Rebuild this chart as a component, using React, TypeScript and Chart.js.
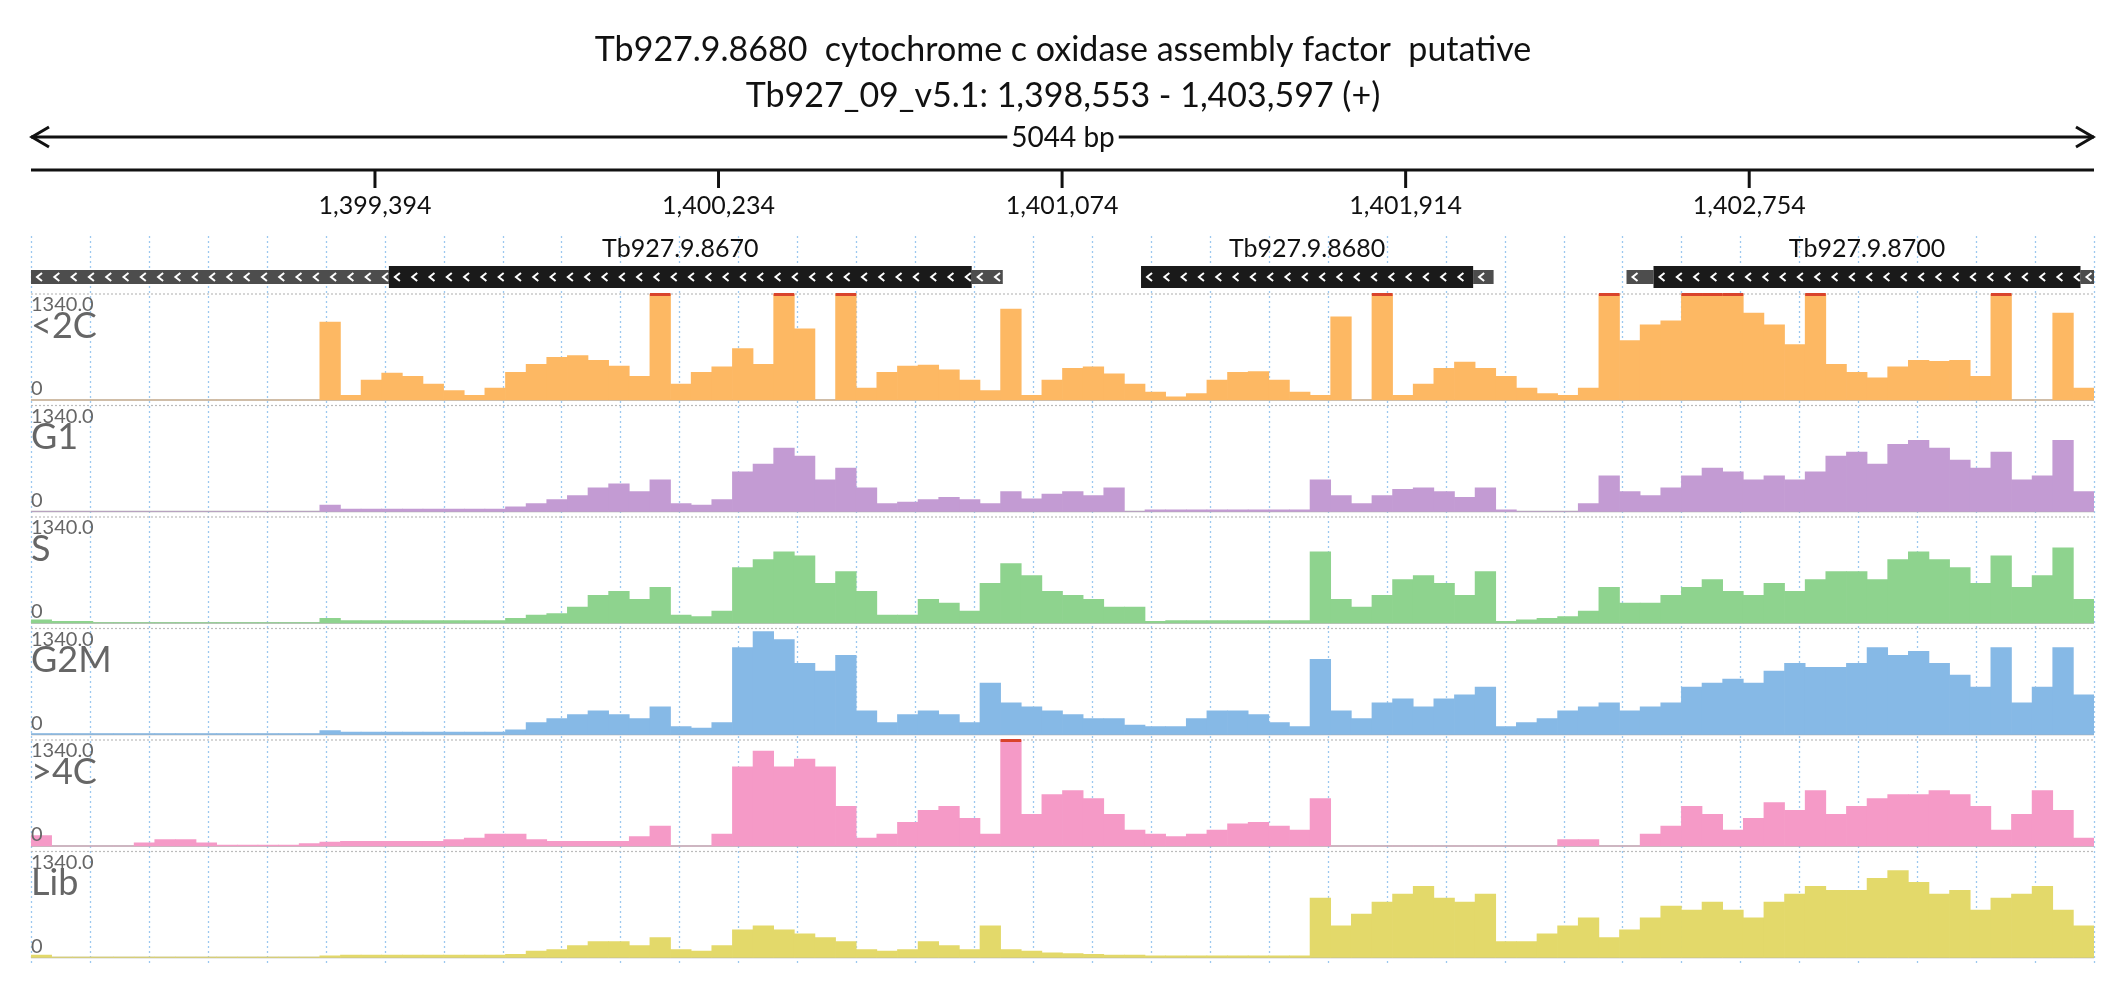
import React, { useEffect, useRef } from "react";
import { Chart, registerables } from "chart.js";
Chart.register(...registerables);

const START = 1398553;
const END = 1403597;
const NBINS = 100;
const TITLE1 = "Tb927.9.8680  cytochrome c oxidase assembly factor  putative";
const TITLE2 = "Tb927_09_v5.1: 1,398,553 - 1,403,597 (+)";
const SPAN_LABEL = "5044 bp";
const RULER_TICKS = [1399394, 1400234, 1401074, 1401914, 1402754];
const TRACK_NAMES = ["<2C", "G1", "S", "G2M", ">4C", "Lib"];
const TRACK_COLORS = ["#fdb863", "#c39bd3", "#8ed38e", "#86b9e6", "#f59ac7", "#e3d96a"];
const YMAX = 1340;
const GENES = [
  { name: "Tb927.9.8670", utr5: [1398553, 1399428], cds: [1399428, 1400853], utr3: [1400853, 1400929] },
  { name: "Tb927.9.8680", utr5: [1401267, 1401267], cds: [1401267, 1402079], utr3: [1402079, 1402129] },
  { name: "Tb927.9.8700", utr5: [1402454, 1402520], cds: [1402520, 1403564], utr3: [1403564, 1403597] },
];

const T_2C = [0,0,0,0,0,0,0,0,0,0,0,0,0,0,985,60,250,340,300,200,120,60,150,350,450,540,560,500,430,300,1340,200,350,420,650,450,1340,900,0,1340,150,350,430,440,380,250,120,1150,60,250,400,420,330,200,100,40,80,250,350,360,250,100,60,1050,0,1340,60,200,400,480,400,300,150,80,60,150,1340,750,950,1000,1340,1340,1340,1100,950,700,1340,450,350,280,420,500,490,500,300,1340,0,0,1100,150];
const T_G1 = [0,0,0,0,0,0,0,0,0,0,0,0,0,0,80,30,30,30,30,30,30,30,30,60,100,150,200,300,350,250,400,100,80,150,500,600,800,700,400,550,300,100,120,150,180,150,100,250,160,220,250,200,300,0,20,20,20,20,20,20,20,20,400,200,100,200,280,300,250,180,300,20,0,0,0,100,450,250,200,300,450,550,500,400,450,400,500,700,750,600,850,900,800,650,550,750,400,450,900,250];
const T_S = [40,20,20,5,5,5,5,5,5,5,5,5,5,5,60,30,30,30,30,30,30,30,30,60,100,120,200,350,400,300,450,100,80,150,700,800,900,850,500,650,400,100,100,300,250,150,500,750,600,400,350,300,200,200,20,30,30,30,30,30,30,30,900,300,200,350,550,600,500,350,650,20,40,60,80,150,450,250,250,350,450,550,400,350,500,400,550,650,650,550,800,900,800,700,500,850,450,600,950,300];
const T_G2M = [10,10,10,10,10,10,10,10,10,10,10,10,10,10,50,30,30,30,30,30,30,30,30,60,150,200,250,300,250,200,350,100,80,150,1100,1300,1200,900,800,1000,300,150,250,300,250,150,650,400,350,300,250,200,200,120,100,100,200,300,300,250,150,100,950,300,200,400,450,350,450,500,600,100,150,200,300,350,400,300,350,400,600,650,700,650,800,900,850,850,900,1100,1000,1050,900,750,600,1100,400,600,1100,500];
const T_4C = [130,0,0,0,0,40,80,80,40,10,10,10,10,30,50,60,60,60,60,60,80,100,150,150,80,60,60,60,60,120,250,0,0,150,1000,1200,1000,1100,1000,500,100,150,300,450,500,350,150,1340,400,650,700,600,400,200,150,120,150,200,280,300,250,200,600,0,0,0,0,0,0,0,0,0,0,0,80,80,0,0,150,250,500,400,200,350,550,450,700,400,500,600,650,650,700,650,500,200,400,700,450,100];
const T_LIB = [30,5,5,5,5,5,5,5,5,5,5,5,5,5,20,30,30,30,30,30,30,30,30,40,80,100,150,200,200,150,250,100,80,150,350,400,350,300,250,200,100,80,100,200,150,100,400,100,80,60,50,40,30,30,20,20,20,20,20,20,20,20,750,400,550,700,800,900,750,700,800,200,200,300,400,500,250,350,500,650,600,700,600,500,700,800,900,850,850,1000,1100,950,800,850,600,750,800,900,600,400];
const TRACKS = [T_2C, T_G1, T_S, T_G2M, T_4C, T_LIB];

const FONT = "Lato, 'Noto Sans', sans-serif";

export default function App() {
  const ref = useRef<HTMLCanvasElement>(null);
  useEffect(() => {
    const canvas = ref.current!;
    const binW = (END - START) / NBINS;
    const datasets = TRACKS.map((vals, t) => ({
      label: TRACK_NAMES[t],
      data: vals.map((v, i) => ({ x: START + binW * (i + 0.5), y: v })),
      backgroundColor: TRACK_COLORS[t],
      borderWidth: 0,
      barPercentage: 1,
      categoryPercentage: 1,
      grouped: false,
      yAxisID: "y" + t,
    }));
    const scales: any = {
      x: {
        type: "linear", min: START, max: END, offset: false, display: true,
        ticks: { display: false }, grid: { display: false }, border: { display: false },
        afterFit: (s: any) => { s.height = 0; },
      },
    };
    TRACK_NAMES.forEach((_, t) => {
      scales["y" + t] = {
        type: "linear", min: -70, max: YMAX, stack: "tracks", stackWeight: 1, weight: 6 - t,
        position: "left", offset: false,
        ticks: { display: false }, grid: { display: false }, border: { display: false },
        afterFit: (s: any) => { s.width = 0; },
      };
    });
    const deco = {
      id: "deco",
      beforeDatasetsDraw(chart: any) {
        const ctx = chart.ctx as CanvasRenderingContext2D;
        const x = chart.scales.x;
        const ca = chart.chartArea;
        ctx.save();
        ctx.strokeStyle = "#9cc8ef"; ctx.lineWidth = 1.3; ctx.setLineDash([2, 3]);
        for (let k = 0; k <= 35; k++) {
          const px = Math.round(x.getPixelForValue(START + (k * (END - START)) / 35)) + 0.5;
          ctx.beginPath(); ctx.moveTo(px, 228); ctx.lineTo(px, ca.bottom); ctx.stroke();
        }
        TRACK_NAMES.forEach((_, t) => {
          const ys = chart.scales["y" + t];
          const top = ys.getPixelForValue(YMAX), base = ys.getPixelForValue(0);
          ctx.setLineDash([2, 2]); ctx.strokeStyle = "#bbbbbb"; ctx.lineWidth = 1.2;
          ctx.beginPath(); ctx.moveTo(ca.left, top); ctx.lineTo(ca.right, top); ctx.stroke();
          ctx.setLineDash([]); ctx.strokeStyle = "#aaaaaa"; ctx.lineWidth = 1.5;
          ctx.beginPath(); ctx.moveTo(ca.left, base); ctx.lineTo(ca.right, base); ctx.stroke();
        });
        ctx.restore();
      },
      afterDatasetsDraw(chart: any) {
        const ctx = chart.ctx as CanvasRenderingContext2D;
        const x = chart.scales.x;
        const ca = chart.chartArea;
        const L = ca.left, R = ca.right, W = chart.width;
        ctx.save();
        const binW = (END - START) / NBINS;
        ctx.fillStyle = "#d9432b";
        TRACKS.forEach((vals, t) => {
          const ys = chart.scales["y" + t];
          vals.forEach((v, i) => {
            if (v >= YMAX) {
              const a = x.getPixelForValue(START + binW * i), b = x.getPixelForValue(START + binW * (i + 1));
              ctx.fillRect(a, ys.getPixelForValue(YMAX) - 1, b - a, 3);
            }
          });
        });
        TRACK_NAMES.forEach((n, t) => {
          const ys = chart.scales["y" + t];
          const top = ys.getPixelForValue(YMAX), base = ys.getPixelForValue(0);
          ctx.fillStyle = "#666"; ctx.textAlign = "left"; ctx.textBaseline = "top";
          ctx.font = `20px ${FONT}`;
          ctx.fillText("1340.0", L, top + 1);
          ctx.textBaseline = "bottom";
          ctx.fillText("0", L, base - 1);
          ctx.font = `36px ${FONT}`; ctx.textBaseline = "top";
          ctx.fillText(n, L, top + 14);
        });
        ctx.fillStyle = "#111"; ctx.textAlign = "center"; ctx.textBaseline = "middle";
        ctx.font = `34px ${FONT}`;
        ctx.fillText(TITLE1, W / 2, 42);
        ctx.fillText(TITLE2, W / 2, 88);
        ctx.strokeStyle = "#111"; ctx.lineWidth = 3;
        ctx.beginPath(); ctx.moveTo(L, 129); ctx.lineTo(R, 129); ctx.stroke();
        ctx.beginPath(); ctx.moveTo(L + 18, 119); ctx.lineTo(L + 1, 129); ctx.lineTo(L + 18, 139); ctx.stroke();
        ctx.beginPath(); ctx.moveTo(R - 18, 119); ctx.lineTo(R - 1, 129); ctx.lineTo(R - 18, 139); ctx.stroke();
        ctx.font = `28px ${FONT}`;
        const tw = ctx.measureText(SPAN_LABEL).width;
        ctx.fillStyle = "#fff"; ctx.fillRect(W / 2 - tw / 2 - 4, 114, tw + 8, 30);
        ctx.fillStyle = "#111"; ctx.fillText(SPAN_LABEL, W / 2, 130);
        ctx.beginPath(); ctx.moveTo(L, 162); ctx.lineTo(R, 162); ctx.stroke();
        ctx.font = `25px ${FONT}`; ctx.textBaseline = "middle";
        RULER_TICKS.forEach((v) => {
          const px = x.getPixelForValue(v);
          ctx.beginPath(); ctx.moveTo(px, 162); ctx.lineTo(px, 180); ctx.stroke();
          ctx.fillText(v.toLocaleString("en-US"), px, 198);
        });
        const cy = 269;
        const chev = (a: number, b: number) => {
          ctx.strokeStyle = "#fff"; ctx.lineWidth = 2;
          for (let p = a + 6; p < b - 4; p += 17.3) {
            ctx.beginPath(); ctx.moveTo(p + 5, cy - 4); ctx.lineTo(p, cy); ctx.lineTo(p + 5, cy + 4); ctx.stroke();
          }
        };
        GENES.forEach((g) => {
          const seg = (r: number[], h: number, col: string) => {
            const a = x.getPixelForValue(r[0]), b = x.getPixelForValue(r[1]);
            if (b - a < 1) return;
            ctx.fillStyle = col; ctx.fillRect(a, cy - h / 2, b - a, h);
            chev(a, b);
          };
          seg(g.utr5, 14, "#4d4d4d");
          seg(g.utr3, 14, "#4d4d4d");
          seg(g.cds, 22, "#1a1a1a");
          const a = x.getPixelForValue(g.cds[0]), b = x.getPixelForValue(g.cds[1]);
          ctx.fillStyle = "#111"; ctx.font = `25px ${FONT}`; ctx.textAlign = "center"; ctx.textBaseline = "middle";
          ctx.fillText(g.name, (a + b) / 2, 241);
        });
        ctx.restore();
      },
    };
    const chart = new Chart(canvas, {
      type: "bar",
      data: { datasets: datasets as any },
      options: {
        animation: false, responsive: false, maintainAspectRatio: false,
        layout: { padding: { left: 23, right: 24, top: 286, bottom: 30 } },
        plugins: { legend: { display: false }, tooltip: { enabled: false }, title: { display: false } },
        scales,
      },
      plugins: [deco],
    });
    return () => chart.destroy();
  }, []);
  return <canvas ref={ref} width={2110} height={985} style={{ display: "block" }} />;
}
